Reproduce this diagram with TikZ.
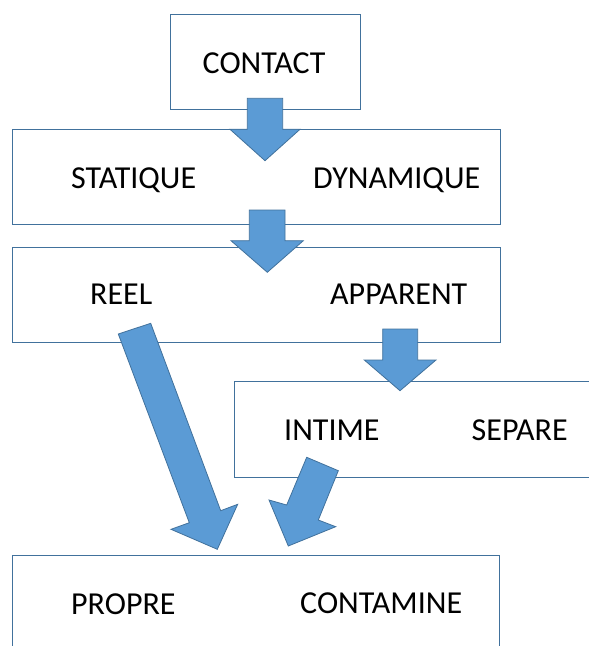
\documentclass[tikz,border=0pt]{standalone}
\usepackage{fontspec}
\setmainfont{Carlito}
\definecolor{boxline}{HTML}{41719C}
\definecolor{arrowfill}{HTML}{5B9BD5}
\begin{document}
\begin{tikzpicture}[x=1pt,y=-1pt,
  boxnode/.style={draw=boxline, line width=1.4pt, inner sep=0pt, anchor=north west},
  label/.style={anchor=base west, inner sep=0pt, font=\fontsize{32}{38}\selectfont},
  blockarrow/.style={fill=arrowfill, draw=boxline, line width=0.8pt, line join=miter}]
\useasboundingbox (0,0) rectangle (589,646);
\clip (0,0) rectangle (589,646);
% boxes
\node[boxnode, minimum width=190pt, minimum height=95pt] (contactbox) at (170,14) {};
\node[boxnode, minimum width=488pt, minimum height=95pt] (box2) at (12,129) {};
\node[boxnode, minimum width=488pt, minimum height=95pt] (box3) at (12,246.5) {};
\node[boxnode, minimum width=390pt, minimum height=96pt] (box4) at (233.5,381) {};
\node[boxnode, minimum width=487pt, minimum height=120pt] (box5) at (12,554.5) {};
% texts
\node[label] (contact) at (202.5,73.3) {CONTACT};
\node[label] (statique) at (71,188.3) {STATIQUE};
\node[label] (dynamique) at (313,188.3) {DYNAMIQUE};
\node[label] (reel) at (90,304.3) {REEL};
\node[label] (apparent) at (330,304.3) {APPARENT};
\node[label] (intime) at (284,440) {INTIME};
\node[label] (separe) at (471.5,440) {SEPARE};
\node[label] (propre) at (71,614) {PROPRE};
\node[label] (contamine) at (300,613.5) {CONTAMINE};
% block arrows
\draw[blockarrow] (247.3,98.3) -- (282.7,98.3) -- (282.7,129.3) -- (300,129.3) -- (265,160.7) -- (230,129.3) -- (247.3,129.3) -- cycle;
\draw[blockarrow] (249.3,210) -- (285,210) -- (285,240.7) -- (303.3,240.7) -- (267.3,272.3) -- (231,240.7) -- (249.3,240.7) -- cycle;
\draw[blockarrow] (382.7,329) -- (417.7,329) -- (417.7,360) -- (436,360) -- (400,390.7) -- (364.3,360) -- (382.7,360) -- cycle;
\draw[blockarrow] (118.3,334) -- (150.7,323.3) -- (220.7,510.7) -- (237.7,504.3) -- (217.3,549.3) -- (171,529.3) -- (189.3,522.7) -- cycle;
\draw[blockarrow] (306.7,457.3) -- (338.3,470.7) -- (318.3,520) -- (335.7,526.7) -- (288.3,546) -- (269,500) -- (286.7,505) -- cycle;
\end{tikzpicture}
\end{document}
